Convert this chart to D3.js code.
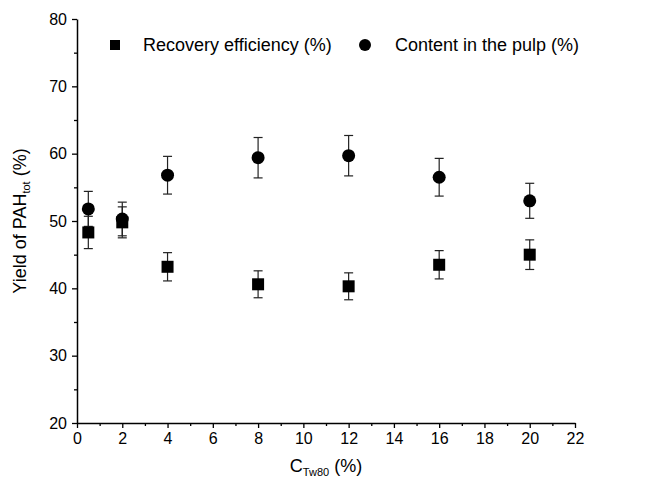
<!DOCTYPE html>
<html>
<head>
<meta charset="utf-8">
<script src="https://cdn.jsdelivr.net/npm/d3@7"></script>
<style>
  body { margin: 0; background: #fff; }
  text { font-family: Arial, "Liberation Sans", sans-serif; fill: #000; }
</style>
</head>
<body>
<div id="chart"></div>
<script>
const width = 671, height = 481;

// data
const conc = [0.5, 2, 4, 8, 12, 16, 20];
const recovery = [48.3, 49.8, 43.2, 40.6, 40.3, 43.5, 45.0];
const recoveryErr = [2.4, 2.3, 2.1, 2.0, 2.0, 2.1, 2.2];
const content = [51.8, 50.3, 56.8, 59.4, 59.7, 56.5, 53.0];
const contentErr = [2.6, 2.5, 2.8, 3.0, 3.0, 2.8, 2.6];
const xTicks = d3.range(0, 23, 2);
const yTicks = d3.range(20, 81, 10);

const svg = d3.select("#chart")
	.append("svg")
	.attr("width", width)
	.attr("height", height);

const x = d3.scaleLinear().domain([0, 22]).range([77, 575]);
const y = d3.scaleLinear().domain([20, 80]).range([423, 19]);

// minor ticks
svg.append("g")
	.attr("transform", `translate(0, ${y(20)})`)
	.call(d3.axisBottom(x).tickValues(d3.range(1, 22, 2)).tickSize(3).tickFormat(""))
	.call(g => g.select(".domain").remove());
svg.append("g")
	.attr("transform", `translate(${x(0)}, 0)`)
	.call(d3.axisLeft(y).tickValues(d3.range(25, 80, 10)).tickSize(3).tickFormat(""))
	.call(g => g.select(".domain").remove());

const xAxis = svg.append("g")
	.attr("transform", `translate(0, ${y(20)})`)
	.call(d3.axisBottom(x).tickValues(xTicks).tickSize(5).tickSizeOuter(0).tickPadding(5));
const yAxis = svg.append("g")
	.attr("transform", `translate(${x(0)}, 0)`)
	.call(d3.axisLeft(y).tickValues(yTicks).tickSize(5).tickSizeOuter(0).tickPadding(5));

svg.selectAll(".tick line").attr("stroke", "#000").attr("stroke-width", 1.3);
svg.selectAll(".domain").attr("stroke", "#000").attr("stroke-width", 1.5);
svg.selectAll(".tick text").style("font-size", "16px").attr("fill", "#000");

// error bars
function errorBars(vals, errs) {
	const g = svg.append("g").attr("stroke", "#222").attr("stroke-width", 1.2);
	conc.forEach((c, i) => {
		const cx = x(c), top = y(vals[i] + errs[i]), bot = y(vals[i] - errs[i]);
		g.append("line").attr("x1", cx).attr("x2", cx).attr("y1", top).attr("y2", bot);
		g.append("line").attr("x1", cx - 4.5).attr("x2", cx + 4.5).attr("y1", top).attr("y2", top);
		g.append("line").attr("x1", cx - 4.5).attr("x2", cx + 4.5).attr("y1", bot).attr("y2", bot);
	});
}
errorBars(recovery, recoveryErr);
errorBars(content, contentErr);

svg.selectAll(".sq")
	.data(conc)
	.enter()
	.append("rect")
	.classed("sq", true)
	.attr("x", (d) => x(d) - 6)
	.attr("y", (d, i) => y(recovery[i]) - 6)
	.attr("width", 12)
	.attr("height", 12)
	.attr("fill", "#000");

svg.selectAll(".dot")
	.data(conc)
	.enter()
	.append("circle")
	.classed("dot", true)
	.attr("cx", (d) => x(d))
	.attr("cy", (d, i) => y(content[i]))
	.attr("r", 6.5)
	.attr("fill", "#000");

// legend
svg.append("rect").attr("x", 110).attr("y", 40).attr("width", 10).attr("height", 10).attr("fill", "#000");
svg.append("text").attr("x", 143).attr("y", 51).style("font-size", "18px").text("Recovery efficiency (%)");
svg.append("circle").attr("cx", 365).attr("cy", 45).attr("r", 6).attr("fill", "#000");
svg.append("text").attr("x", 395).attr("y", 51).style("font-size", "18px").text("Content in the pulp (%)");

// axis titles
const xt = svg.append("text")
	.attr("x", 326)
	.attr("y", 472)
	.attr("text-anchor", "middle")
	.style("font-size", "18px");
xt.append("tspan").text("C");
xt.append("tspan").attr("dy", 4).style("font-size", "11px").text("Tw80");
xt.append("tspan").attr("dy", -4).text(" (%)");

const yt = svg.append("text")
	.attr("transform", `translate(26, ${y(50)}) rotate(-90)`)
	.attr("text-anchor", "middle")
	.style("font-size", "18px");
yt.append("tspan").text("Yield of PAH");
yt.append("tspan").attr("dy", 4).style("font-size", "11px").text("tot");
yt.append("tspan").attr("dy", -4).text(" (%)");
</script>
</body>
</html>
